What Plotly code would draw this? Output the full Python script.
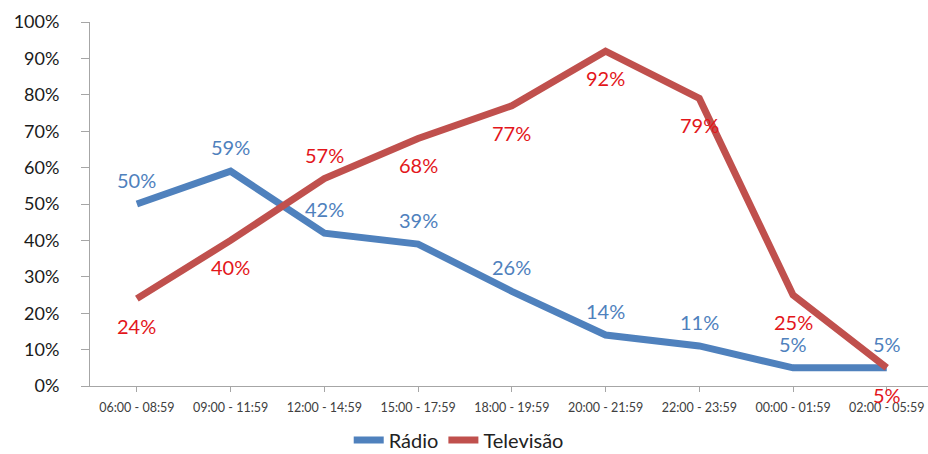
import plotly.graph_objects as go

# Time slots on the horizontal axis
faixas = ["06:00 - 08:59", "09:00 - 11:59", "12:00 - 14:59", "15:00 - 17:59",
          "18:00 - 19:59", "20:00 - 21:59", "22:00 - 23:59", "00:00 - 01:59",
          "02:00 - 05:59"]

# Audience share per slot (%)
radio = [50, 59, 42, 39, 26, 14, 11, 5, 5]
televisao = [24, 40, 57, 68, 77, 92, 79, 25, 5]

# Label placement per point: +1 above, -1 below
radio_lado = [1, 1, 1, 1, 1, 1, 1, 1, 1]
tv_lado = [-1, -1, 1, -1, -1, -1, -1, -1, -1]

y_ticks = [0, 10, 20, 30, 40, 50, 60, 70, 80, 90, 100]

AZUL = "#4F81BD"
VERMELHO = "#C0504D"
AZUL_TXT = "#4F81BD"
VERMELHO_TXT = "#E3161B"
FONTE = "Lato, 'Open Sans', sans-serif"

x_idx = list(range(len(faixas)))

fig = go.Figure()
fig.add_trace(go.Scatter(x=x_idx, y=radio, mode="lines", name="Rádio",
                         line=dict(color=AZUL, width=7)))
fig.add_trace(go.Scatter(x=x_idx, y=televisao, mode="lines", name="Televisão",
                         line=dict(color=VERMELHO, width=7)))

annotations = []
for serie, lados, cor in ((radio, radio_lado, AZUL_TXT),
                          (televisao, tv_lado, VERMELHO_TXT)):
    for i, (v, lado) in enumerate(zip(serie, lados)):
        annotations.append(dict(
            x=i, y=v, xref="x", yref="y", text=f"{v}%", showarrow=False,
            yshift=24 if lado > 0 else -27,
            font=dict(family=FONTE, size=20, color=cor)))

fig.update_layout(
    width=928, height=454,
    margin=dict(l=90, r=0, t=22, b=68, autoexpand=False),
    paper_bgcolor="white", plot_bgcolor="white",
    showlegend=True,
    legend=dict(orientation="h", x=0.44, xanchor="center",
                yref="container", y=0.031, yanchor="middle",
                font=dict(family=FONTE, size=20, color="#222"),
                itemwidth=30, tracegroupgap=0),
    annotations=annotations,
)
fig.update_xaxes(
    range=[-0.5, 8.44], tickmode="array", tickvals=x_idx, ticktext=faixas,
    tickson="boundaries", ticks="outside", ticklen=5, tickcolor="#A6A6A6",
    ticklabelstandoff=5,
    showline=True, linecolor="#A6A6A6", linewidth=1, showgrid=False,
    zeroline=False, fixedrange=True, automargin=False,
    tickfont=dict(family=FONTE, size=12.5, color="#404040"))
fig.update_yaxes(
    range=[0, 100], tickmode="array", tickvals=y_ticks,
    ticktext=[f"{t}%" for t in y_ticks],
    ticks="outside", ticklen=8, tickcolor="#A6A6A6", ticklabelstandoff=18,
    showline=True, linecolor="#A6A6A6", linewidth=1, showgrid=False,
    zeroline=False, fixedrange=True, automargin=False,
    tickfont=dict(family=FONTE, size=18, color="#1a1a1a"))

fig.write_html("out.html")
